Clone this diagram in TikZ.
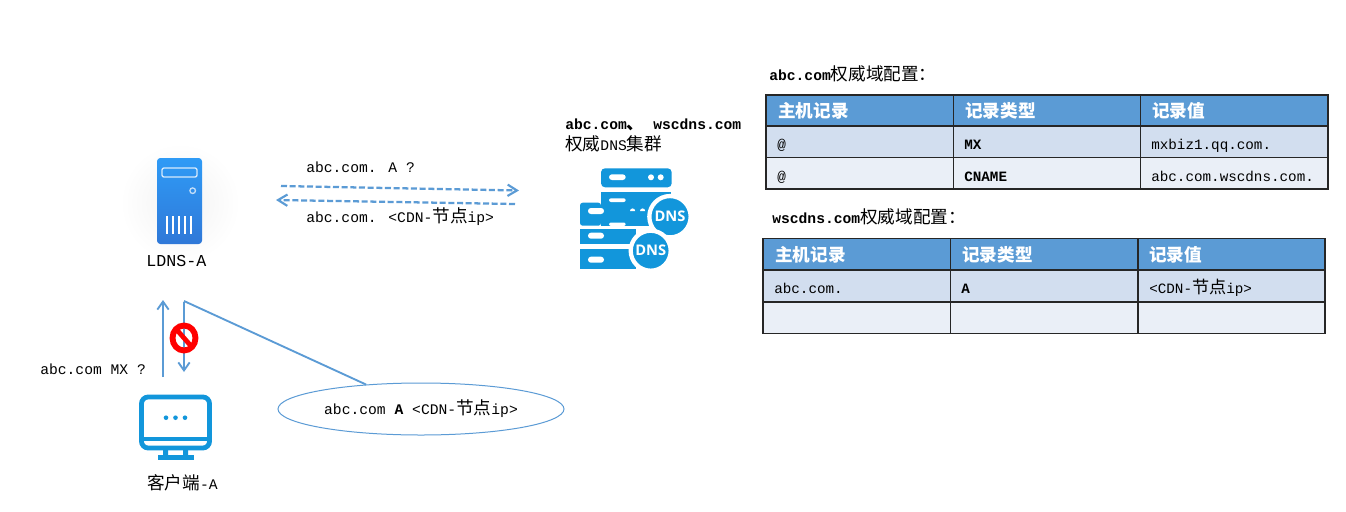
\documentclass[tikz,border=0pt]{standalone}
\usepackage{fontspec}
\setmainfont{Liberation Mono}
\newfontfamily\cjk[Scale=1.2]{Noto Sans CJK SC}
\newfontfamily\iconfont{Open Sans}
\usetikzlibrary{arrows.meta,shapes.geometric}
\definecolor{flow}{HTML}{5B9BD5}
\definecolor{iconblue}{HTML}{1296DB}
\definecolor{rowa}{HTML}{D2DEEF}
\definecolor{rowb}{HTML}{EAEFF7}
\tikzset{
  txt/.style={anchor=base west,inner sep=0pt,font=\fontsize{11pt}{13pt}\selectfont},
  boldtxt/.style={txt,font=\fontsize{11pt}{13pt}\selectfont\bfseries},
  celltxt/.style={txt,font=\fontsize{10.7pt}{13pt}\selectfont},
  boldcell/.style={txt,font=\fontsize{10.7pt}{13pt}\selectfont\bfseries},
  hdr/.style={txt,text=white,font=\fontsize{11pt}{13pt}\selectfont\bfseries},
  flowdash/.style={draw=flow,line width=1.7pt,dash pattern=on 4.5pt off 2pt,-{Straight Barb[length=7pt,width=8.5pt,line width=1.6pt]}},
  flowline/.style={draw=flow,line width=1.4pt},
  flowarrow/.style={flowline,-{Straight Barb[length=6pt,width=8.5pt,line width=1.4pt]}},
  cellline/.style={draw=black!85,line width=1.1pt},
  dnsdisc/.style={circle,fill=iconblue,draw=white,line width=3.2pt,inner sep=0pt,text=white,font=\iconfont\fontsize{11pt}{11pt}\selectfont\bfseries},
  monitor/.style={draw=iconblue,line width=3.6pt},
}
\newcommand{\zh}[1]{{\cjk #1}}
\begin{document}
\begin{tikzpicture}[x=.75pt,y=-.75pt]
\useasboundingbox (0,0) rectangle (1346,511);
\fill[white] (0,0) rectangle (1346,511);

% LDNS server icon
\shade[inner color=black!5,outer color=white,draw=none] (180,203) circle [radius=60];
\shade[top color={rgb,255:red,47;green,155;blue,246},bottom color={rgb,255:red,47;green,120;blue,216},rounded corners=2.5pt]
  (157,158) rectangle (202,244);
\draw[white,opacity=.8,line width=1pt,rounded corners=1.5pt] (162,168) rectangle (197,177);
\draw[white,opacity=.7,line width=1pt] (192.7,190.7) circle [radius=2.8];
\foreach \bx in {167.3,173,179,185,190.7}
  \draw[white,line width=1.5pt] (\bx,216) -- (\bx,234);
\node[txt,font=\fontsize{12.5pt}{14pt}\selectfont] (ldns) at (146,266) {LDNS-A};

% Query labels and dashed arrows
\node[txt] (qa) at (306,172) {abc.com. A ?};
\node[txt] (ra) at (306,222) {abc.com. <CDN-\zh{节点}ip>};
\coordinate (qs) at (281,186);
\coordinate (qe) at (519,190.5);
\coordinate (rs) at (515,204);
\coordinate (re) at (276,200);
\draw[flowdash] (qs) -- (qe);
\draw[flowdash] (rs) -- (re);

% Authoritative cluster
\node[boldtxt] (authhead) at (565,129.5) {abc.com\zh{、} wscdns.com};
\node[txt] (authname) at (565,150.5) {\zh{权威}DNS\zh{集群}};
\fill[iconblue,rounded corners=3pt] (601,168.3) rectangle (671.7,187.3);
\fill[iconblue] (601,192.3) rectangle (671,226);
\fill[iconblue,rounded corners=2pt] (580,202.7) -- (601,202.7) -- (601,225.7) -- (580,225.7) -- cycle;
\fill[iconblue] (580,229.3) rectangle (636,244);
\fill[iconblue] (580,249.3) rectangle (636,268.7);
\fill[white] (599.5,192.3) rectangle (601,202.7);
\fill[white,rounded corners=2.2pt] (609,174.3) rectangle (625.7,180);
\fill[white] (651,177.3) circle [radius=3] (660.7,177.3) circle [radius=3];
\fill[white,rounded corners=1.5pt] (609,198.3) rectangle (625.7,202);
\fill[white,rounded corners=1.5pt] (609,222.5) rectangle (625.7,226);
\fill[white] (630,211) arc (180:360:2.6) -- cycle (640,211) arc (180:360:2.6) -- cycle;
\fill[white,rounded corners=2.2pt] (588,208) rectangle (604,214);
\fill[white,rounded corners=2.2pt] (588,232.7) rectangle (604,238.7);
\fill[white,rounded corners=2.2pt] (588,256.7) rectangle (604,262.7);
\node[dnsdisc,minimum size=31pt] (dnsa) at (670,216.7) {DNS};
\node[dnsdisc,minimum size=30pt] (dnsb) at (650.7,250.7) {DNS};

% Table 1
\node[boldtxt] (tonetitle) at (769,80) {abc.com{\mdseries\zh{权威域配置：}}};
\fill[flow] (766,95) rectangle (1328,126);
\fill[rowa] (766,126) rectangle (1328,157.5);
\fill[rowb] (766,157.5) rectangle (1328,189);
\draw[cellline] (766,95) rectangle (1328,189)
  (766,126) -- (1328,126) (766,157.5) -- (1328,157.5)
  (953.5,95) -- (953.5,189) (1140.5,95) -- (1140.5,189);
\node[hdr] (oh1) at (778,117) {\zh{主机记录}};
\node[hdr] (oh2) at (965,117) {\zh{记录类型}};
\node[hdr] (oh3) at (1152,117) {\zh{记录值}};
\node[celltxt] (oa1) at (777,149) {@};
\node[boldcell] (oa2) at (964,149) {MX};
\node[celltxt] (oa3) at (1151,149) {mxbiz1.qq.com.};
\node[celltxt] (ob1) at (777,181) {@};
\node[boldcell] (ob2) at (964,181) {CNAME};
\node[celltxt] (ob3) at (1151,181) {abc.com.wscdns.com.};

% Table 2
\node[boldtxt] (ttwotitle) at (772,223) {wscdns.com{\mdseries\zh{权威域配置：}}};
\fill[flow] (763,238.5) rectangle (1325,270);
\fill[rowa] (763,270) rectangle (1325,302);
\fill[rowb] (763,302) rectangle (1325,333.5);
\draw[cellline] (763,238.5) rectangle (1325,333.5)
  (763,270) -- (1325,270) (763,302) -- (1325,302)
  (950.5,238.5) -- (950.5,333.5) (1138,238.5) -- (1138,333.5);
\node[hdr] (th1) at (775,261) {\zh{主机记录}};
\node[hdr] (th2) at (962,261) {\zh{记录类型}};
\node[hdr] (th3) at (1149,261) {\zh{记录值}};
\node[celltxt] (ta1) at (774,293) {abc.com.};
\node[boldcell] (ta2) at (961,293) {A};
\node[celltxt] (ta3) at (1149,293) {<CDN-\zh{节点}ip>};

% Client icon
\draw[monitor,rounded corners=5pt] (141.5,397) rectangle (209.5,448);
\draw[iconblue,line width=3pt] (141.5,438.5) -- (209.5,438.5);
\fill[iconblue] (166,417.7) circle [radius=2.3] (175.5,417.7) circle [radius=2.3] (185,417.7) circle [radius=2.3];
\fill[iconblue] (163,450) rectangle (168,456) (183,450) rectangle (188,456);
\fill[iconblue] (157.5,455) rectangle (194,459.5);
\node[txt] (client) at (147,489) {\zh{客户端}-A};

% Client / LDNS arrows
\node[txt] (mxq) at (40,374) {abc.com MX ?};
\coordinate (upstart) at (163,377);
\coordinate (upend) at (163,300);
\coordinate (downstart) at (184,302);
\coordinate (downend) at (184,372);
\draw[flowarrow] (upstart) -- (upend);
\draw[flowarrow] (downstart) -- (downend);
\draw[red,line width=4.4pt] (184,338) ellipse [x radius=11.5,y radius=12.5];
\draw[red,line width=3.6pt] (177,330) -- (191,346);

% Callout
\node[ellipse,draw=flow,line width=.75pt,minimum width=214.5pt,minimum height=39pt,inner sep=0pt,
  font=\fontsize{11pt}{13pt}\selectfont] (answer) at (421,409)
  {abc.com {\bfseries A} <CDN-\zh{节点}ip>};
\coordinate (calloutroot) at (184,301);
\draw[flowline] (calloutroot) -- (answer.156);
\end{tikzpicture}
\end{document}
